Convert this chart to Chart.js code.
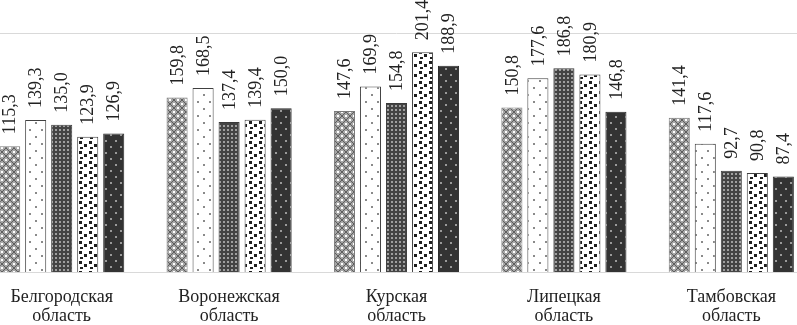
<!DOCTYPE html>
<html>
<head>
<meta charset="utf-8">
<script src="https://cdn.jsdelivr.net/npm/chart.js@4/dist/chart.umd.min.js"></script>
<style>
  html, body { margin: 0; padding: 0; background: #fff; overflow: hidden; }
  #wrap { position: absolute; left: -22px; top: 0; width: 837px; height: 325px; }
</style>
</head>
<body>
<div id="wrap"><canvas id="chart"></canvas></div>
<script>
// Regions (two-line labels)
const regions = [
  ['Белгородская', 'область'],
  ['Воронежская', 'область'],
  ['Курская', 'область'],
  ['Липецкая', 'область'],
  ['Тамбовская', 'область'],
];

// Five series, one value per region
const series1 = [115.3, 159.8, 147.6, 150.8, 141.4];
const series2 = [139.3, 168.5, 169.9, 177.6, 117.6];
const series3 = [135.0, 137.4, 154.8, 186.8, 92.7];
const series4 = [123.9, 139.4, 201.4, 180.9, 90.8];
const series5 = [126.9, 150.0, 188.9, 146.8, 87.4];

const SERIF = "'Liberation Serif', 'Times New Roman', serif";

// Pattern helpers
function makePattern(w, h, paint) {
  const c = document.createElement('canvas');
  c.width = w;
  c.height = h;
  const g = c.getContext('2d');
  paint(g, w, h);
  return g.createPattern(c, 'repeat');
}

const patDiamond = makePattern(8, 8, (g) => {
  g.fillStyle = '#a6a6a6';
  g.fillRect(0, 0, 8, 8);
  g.fillStyle = '#5e5e5e';
  for (let i = 0; i < 8; i++) {
    g.fillRect(i, i, 1, 1);
    g.fillRect(7 - i, i, 1, 1);
  }
  g.fillStyle = '#ffffff';
  g.fillRect(3, 0, 2, 1);
  g.fillRect(3, 7, 2, 1);
  g.fillRect(0, 3, 1, 2);
  g.fillRect(7, 3, 1, 2);
});

const patSparse = makePattern(12, 14, (g) => {
  g.fillStyle = '#ffffff';
  g.fillRect(0, 0, 12, 14);
  g.fillStyle = '#8a8a8a';
  g.fillRect(3, 3, 2, 2);
  g.fillRect(9, 10, 2, 2);
});

const patGrid = makePattern(4, 4, (g) => {
  g.fillStyle = '#444444';
  g.fillRect(0, 0, 4, 4);
  g.fillStyle = '#a0a0a0';
  g.fillRect(1, 1, 2, 2);
});

const patDots = makePattern(10, 10, (g) => {
  g.fillStyle = '#ffffff';
  g.fillRect(0, 0, 10, 10);
  g.fillStyle = '#1e1e1e';
  g.fillRect(1, 1, 3, 3);
  g.fillRect(6, 4, 3, 3);
  g.fillRect(2, 7, 3, 2);
});

const patDark = makePattern(10, 12, (g) => {
  g.fillStyle = '#333333';
  g.fillRect(0, 0, 10, 12);
  g.fillStyle = '#9a9a9a';
  g.fillRect(2, 2, 2, 2);
  g.fillRect(7, 8, 2, 2);
});

// Frame lines: top rule and baseline across the full width
const frameLines = {
  id: 'frameLines',
  beforeDatasetsDraw(chart) {
    const { ctx, chartArea } = chart;
    ctx.save();
    ctx.strokeStyle = '#d9d9d9';
    ctx.lineWidth = 1;
    [chartArea.top, chartArea.bottom].forEach((y) => {
      ctx.beginPath();
      ctx.moveTo(0, Math.round(y) + 0.5);
      ctx.lineTo(chart.width, Math.round(y) + 0.5);
      ctx.stroke();
    });
    ctx.restore();
  },
};

// Rotated value labels above bars
const valueLabels = {
  id: 'valueLabels',
  afterDatasetsDraw(chart) {
    const { ctx } = chart;
    ctx.save();
    ctx.font = '18px ' + SERIF;
    ctx.fillStyle = '#222222';
    ctx.textAlign = 'left';
    ctx.textBaseline = 'middle';
    chart.data.datasets.forEach((ds, di) => {
      chart.getDatasetMeta(di).data.forEach((bar, i) => {
        const text = ds.data[i].toFixed(1).replace('.', ',');
        ctx.save();
        ctx.translate(bar.x, bar.y - 12);
        ctx.rotate(-Math.PI / 2);
        ctx.fillText(text, 0, 1);
        ctx.restore();
      });
    });
    ctx.restore();
  },
};

const ctx = document.getElementById('chart');

new Chart(ctx, {
  type: 'bar',
  data: {
    labels: regions,
    datasets: [
      { data: series1, backgroundColor: patDiamond, borderColor: '#7a7a7a', borderWidth: 1 },
      { data: series2, backgroundColor: patSparse, borderColor: '#404040', borderWidth: 1 },
      { data: series3, backgroundColor: patGrid, borderColor: '#3a3a3a', borderWidth: 1 },
      { data: series4, backgroundColor: patDots, borderColor: '#404040', borderWidth: 1 },
      { data: series5, backgroundColor: patDark, borderColor: '#2a2a2a', borderWidth: 1 },
    ],
  },
  options: {
    responsive: true,
    maintainAspectRatio: false,
    animation: false,
    layout: {
      padding: { top: 33, left: 0, right: 0, bottom: 0 },
    },
    categoryPercentage: 0.777,
    barPercentage: 0.81,
    plugins: {
      legend: { display: false },
      tooltip: { enabled: false },
    },
    scales: {
      x: {
        grid: { display: false, drawTicks: false },
        border: { display: false },
        ticks: {
          color: '#222222',
          padding: 15,
          maxRotation: 0,
          autoSkip: false,
          font: { family: SERIF, size: 18, lineHeight: 1.1 },
        },
        afterFit(axis) {
          axis.height = 53;
        },
      },
      y: {
        display: false,
        min: 0,
        max: 219,
      },
    },
  },
  plugins: [frameLines, valueLabels],
});
</script>
</body>
</html>
